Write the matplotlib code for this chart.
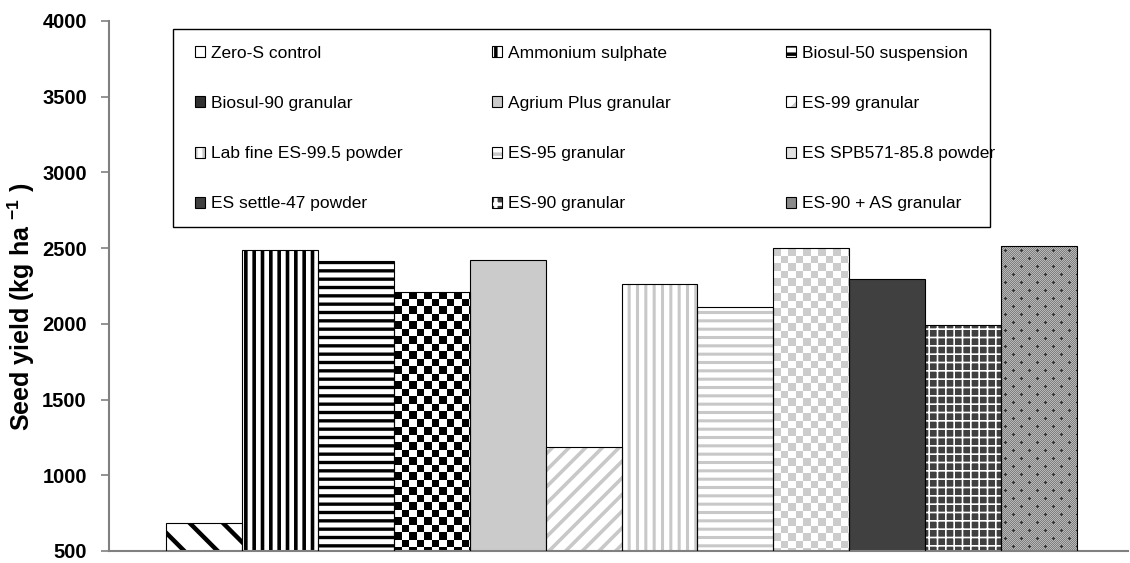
import numpy as np
import matplotlib.pyplot as plt
from matplotlib.patches import Rectangle

plt.rcParams['font.family'] = ['Liberation Sans', 'DejaVu Sans']
plt.rcParams['mathtext.fontset'] = 'custom'
plt.rcParams['mathtext.rm'] = 'Liberation Sans'
plt.rcParams['mathtext.bf'] = 'Liberation Sans:bold'
plt.rcParams['hatch.linewidth'] = 2.5

# data
treatments = ['Zero-S control', 'Ammonium sulphate', 'Biosul-50 suspension',
              'Biosul-90 granular', 'Agrium Plus granular', 'ES-99 granular',
              'Lab fine ES-99.5 powder', 'ES-95 granular', 'ES SPB571-85.8 powder',
              'ES settle-47 powder', 'ES-90 granular', 'ES-90 + AS granular']
seed_yield = [686, 2485, 2413, 2212, 2424, 1189, 2266, 2113, 2500, 2294, 1992, 2514]
y_ticks = [500, 1000, 1500, 2000, 2500, 3000, 3500, 4000]

# fill style for each bar: (facecolor, hatch, hatch colour, hatch lw, texture)
styles = [
    ('white', '\\', 'black', 3.2, None),
    ('white', '||', 'black', 2.6, None),
    ('white', '--', 'black', 2.4, None),
    ('#303030', None, None, None, 'checker_dark'),
    ('#cbcbcb', None, None, None, None),
    ('white', '//', '#c8c8c8', 2.6, None),
    ('white', '||', '#c8c8c8', 2.2, None),
    ('white', '--', '#c8c8c8', 2.2, None),
    ('#e2e2e2', None, None, None, 'checker_light'),
    ('#404040', None, None, None, None),
    ('#404040', '++', 'white', 1.2, None),
    ('#8a8a8a', None, None, None, 'dots'),
]


def checker(ny, nx, cell, c1, c2):
    yy, xx = np.indices((ny, nx))
    mask = ((yy / cell).astype(int) + (xx / cell).astype(int)) % 2 == 0
    return np.where(mask[..., None], np.array(c1, dtype=float), np.array(c2, dtype=float))


def dotted(ny, nx):
    yy, xx = np.indices((ny, nx))
    img = np.where((yy + xx) % 2 == 0, 0.5, 0.72)
    ty, tx = yy % 16, xx % 16
    for cy, cx in [(4, 4), (12, 12)]:
        cross = ((ty == cy) & (abs(tx - cx) <= 1)) | ((tx == cx) & (abs(ty - cy) <= 1))
        img[cross] = 0.2
    return np.repeat(img[..., None], 3, axis=2)


fig = plt.figure(figsize=(11.3, 5.63), dpi=100)
ax = fig.add_axes([109 / 1130, 1 - 551 / 563, 1019 / 1130, 530 / 563])

x = np.arange(len(treatments))
ax.set_xlim(-1.25, 12.17)
ax.set_ylim(y_ticks[0], y_ticks[-1])

fills = []
for i, (face, hatch, hcol, hlw, tex) in enumerate(styles):
    if hatch:
        b = ax.bar(x[i], seed_yield[i], width=1.0, color=face, hatch=hatch,
                   edgecolor=hcol, linewidth=0, zorder=2)[0]
        if hasattr(b, 'set_hatch_linewidth'):
            b.set_hatch_linewidth(hlw)
    else:
        b = ax.bar(x[i], seed_yield[i], width=1.0, color=face, linewidth=0, zorder=2)[0]
    fills.append(b)
    if tex:
        ylo = max(b.get_y(), y_ticks[0])
        yhi = b.get_y() + b.get_height()
        p = ax.transData.transform([[b.get_x(), ylo], [b.get_x() + b.get_width(), yhi]])
        nx = int(round(abs(p[1, 0] - p[0, 0])))
        ny = int(round(abs(p[1, 1] - p[0, 1])))
        if tex == 'checker_dark':
            img = checker(ny, nx, 7.5, (0, 0, 0), (1, 1, 1))
        elif tex == 'checker_light':
            img = checker(ny, nx, 7.5, (0.8, 0.8, 0.8), (1, 1, 1))
        else:
            img = dotted(ny, nx)
        im = ax.imshow(img, extent=(b.get_x(), b.get_x() + b.get_width(), ylo, yhi),
                       aspect='auto', interpolation='nearest', zorder=2.5)
        im.set_clip_path(b)

# outlines on top
outlines = ax.bar(x, seed_yield, width=1.0, fill=False, edgecolor='black',
                  linewidth=0.8, zorder=3)

ax.set_xlim(-1.25, 12.17)
ax.set_ylim(y_ticks[0], y_ticks[-1])
ax.set_yticks(y_ticks)
ax.tick_params(axis='y', labelsize=14.5, length=6, width=1.2, color='#808080', pad=10)
for t in ax.get_yticklabels():
    t.set_fontweight('bold')
ax.set_xticks([])
for s in ['top', 'right']:
    ax.spines[s].set_visible(False)
for s in ['left', 'bottom']:
    ax.spines[s].set_color('#808080')
    ax.spines[s].set_linewidth(1.5)

ax.set_ylabel(r'Seed yield (kg ha $^{\mathbf{-1}}$ )', fontsize=18, fontweight='bold')
ax.yaxis.set_label_coords(-0.0707, 0.46)

# legend: three columns of four, filled row by row, inside one box
col_left_px = [195, 492, 786]
for c, xp in enumerate(col_left_px):
    idx = [3 * r + c for r in range(4)]
    leg = fig.legend([(fills[k], outlines[k]) for k in idx], [treatments[k] for k in idx],
                     loc='upper left', bbox_to_anchor=(xp / 1130, 1 - 46 / 563),
                     bbox_transform=fig.transFigure, fontsize=12.5, frameon=False,
                     handlelength=0.6, handleheight=0.6, handletextpad=0.3,
                     labelspacing=2.02, borderpad=0, borderaxespad=0)

fig.add_artist(Rectangle((173 / 1130, 1 - 227 / 563), 817 / 1130, 198 / 563,
                         transform=fig.transFigure, fill=False,
                         edgecolor='black', linewidth=1.0))

fig.savefig('out.png', dpi=100)
